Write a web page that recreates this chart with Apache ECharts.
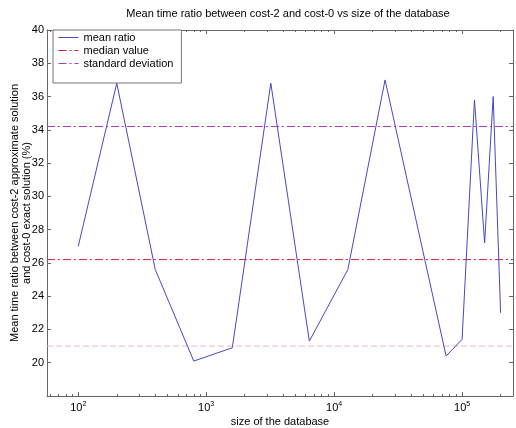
<!DOCTYPE html>
<html>
<head>
<meta charset="utf-8">
<script src="https://cdn.jsdelivr.net/npm/echarts@6/dist/echarts.min.js"></script>
<style>
  html, body { margin: 0; padding: 0; background: #fff; }
  #chart { width: 516px; height: 428px; }
</style>
</head>
<body>
<div id="chart"></div>
<script>
// database sizes (x, log scale) and the mean ratio
var dbSize = [100, 200, 400, 800, 1600, 3200, 6400, 12800, 25000, 75000, 100000, 125000, 150000, 175000, 200000];
var meanRatio = [27.0, 36.8, 25.6, 20.1, 20.9, 36.8, 21.3, 25.6, 37.0, 20.4, 21.4, 35.8, 27.2, 36.0, 23.0];
// horizontal reference levels
var medianLevel = 26.2;
var stdLevel = 34.2;
var lowLevel = 21.0;
var xRange = [57, 250000];
var yRange = [18, 40];

var font = "Liberation Sans";

function flat(level) {
  return [[xRange[0], level], [xRange[1], level]];
}

var chart = echarts.init(document.getElementById("chart"));

var tickStyle = { show: true, inside: true, length: 4, lineStyle: { color: "#666" } };
var minorStyle = { show: true, splitNumber: 9, length: 2, lineStyle: { color: "#666" } };
var lineStyleAxis = { show: true, lineStyle: { color: "#666", width: 1 } };

var option = {
  backgroundColor: "#fff",
  animation: false,
  textStyle: { fontFamily: font },
  title: {
    text: "Mean time ratio between cost-2 and cost-0 vs size of the database",
    left: 283,
    textAlign: "center",
    top: 3,
    textStyle: { fontSize: 11, fontWeight: "normal", color: "#000", fontFamily: font }
  },
  grid: { left: 47, right: 3, top: 30, bottom: 32, containLabel: false, outerBoundsMode: "none" },
  legend: {
    orient: "vertical",
    left: 53,
    top: 30,
    itemWidth: 20,
    itemHeight: 10,
    itemGap: 2,
    padding: [2, 8, 14, 5],
    backgroundColor: "#fff",
    borderColor: "#777",
    borderWidth: 1,
    borderRadius: 0,
    itemStyle: { opacity: 0 },
    lineStyle: { width: 1 },
    textStyle: { fontSize: 11, color: "#000", fontFamily: font },
    data: ["mean ratio", "median value", "standard deviation"]
  },
  xAxis: [
    {
      type: "log",
      logBase: 10,
      min: xRange[0],
      max: xRange[1],
      name: "size of the database",
      nameLocation: "middle",
      nameGap: 20,
      nameMoveOverlap: false,
      nameTextStyle: { fontSize: 11, color: "#000", fontFamily: font, verticalAlign: "top" },
      axisLine: lineStyleAxis,
      axisTick: tickStyle,
      minorTick: minorStyle,
      splitLine: { show: false },
      axisLabel: {
        showMinLabel: false,
        showMaxLabel: false,
        margin: 5,
        formatter: function (v) {
          var e = Math.round(Math.log(v) / Math.LN10);
          return "{b|10}{s|" + e + "}";
        },
        rich: {
          b: { fontSize: 11, color: "#000", fontFamily: font },
          s: { fontSize: 7, color: "#000", fontFamily: font, padding: [0, 0, 7, 0] }
        }
      }
    },
    {
      type: "log",
      logBase: 10,
      min: xRange[0],
      max: xRange[1],
      position: "top",
      axisLine: lineStyleAxis,
      axisTick: tickStyle,
      minorTick: minorStyle,
      splitLine: { show: false },
      axisLabel: { show: false }
    }
  ],
  yAxis: [
    {
      type: "value",
      min: yRange[0],
      max: yRange[1],
      interval: 2,
      name: "Mean time ratio between cost-2 approximate solution\nand cost-0 exact solution (%)",
      nameLocation: "middle",
      nameGap: 14,
      nameMoveOverlap: false,
      nameTextStyle: { fontSize: 11, color: "#000", fontFamily: font, lineHeight: 12 },
      axisLine: lineStyleAxis,
      axisTick: tickStyle,
      splitLine: { show: false },
      axisLabel: {
        showMinLabel: false,
        margin: 3,
        fontSize: 11,
        color: "#000",
        fontFamily: font
      }
    },
    {
      type: "value",
      min: yRange[0],
      max: yRange[1],
      interval: 2,
      position: "right",
      axisLine: lineStyleAxis,
      axisTick: tickStyle,
      splitLine: { show: false },
      axisLabel: { show: false }
    }
  ],
  series: [
    {
      name: "lower level",
      type: "line",
      symbol: "none",
      silent: true,
      color: "#f0b4cc",
      data: flat(lowLevel),
      lineStyle: { color: "#f0b4cc", width: 1, type: [6, 3] }
    },
    {
      name: "median value",
      type: "line",
      symbol: "none",
      silent: true,
      color: "#d0203c",
      data: flat(medianLevel),
      lineStyle: { color: "#d0203c", width: 1, type: [8, 3, 2, 3] }
    },
    {
      name: "standard deviation",
      type: "line",
      symbol: "none",
      silent: true,
      color: "#a840b8",
      data: flat(stdLevel),
      lineStyle: { color: "#a840b8", width: 1, type: [8, 3, 2, 3] }
    },
    {
      name: "mean ratio",
      type: "line",
      symbol: "none",
      color: "#4848c4",
      data: dbSize.map(function (x, i) { return [x, meanRatio[i]]; }),
      lineStyle: { color: "#4848c4", width: 1 }
    }
  ]
};

chart.setOption(option);
</script>
</body>
</html>
